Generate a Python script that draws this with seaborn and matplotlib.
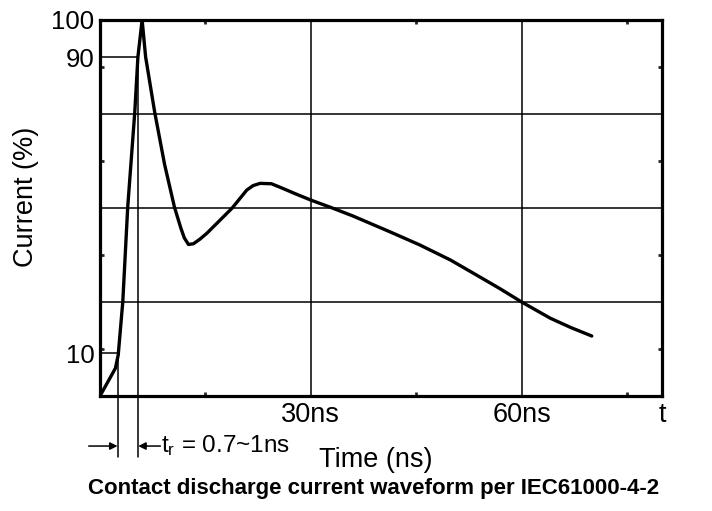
import numpy as np
import seaborn as sns
import matplotlib.pyplot as plt

# waveform (time in ns, current in %)
time_ns = [0, 2.2, 2.4, 2.6, 3.25, 3.95, 4.95, 5.4, 6.0, 6.5, 7.8, 9.2, 10.6, 11.5,
           12.0, 12.6, 13.3, 14.2, 15.2, 17.0, 18.8, 20.0, 20.9, 21.8, 22.8, 24.4,
           25.7, 27.8, 30.0, 33.0, 36.0, 41.3, 45.5, 49.9, 54.1, 57.0, 60.0, 64.1,
           67.0, 70.0]
current_pct = [-1.5, 6.0, 7.8, 9.6, 24.0, 49.5, 75.0, 90.0, 100.0, 90.0, 75.0, 61.0, 49.5, 43.9,
               41.2, 39.4, 39.6, 40.8, 42.4, 45.8, 49.2, 52.0, 54.1, 55.3, 55.9, 55.8,
               54.8, 53.1, 51.4, 49.3, 47.1, 42.8, 39.3, 35.2, 30.6, 27.4, 23.9, 19.5,
               17.0, 14.7]

y_ticks = [10, 90, 100]
x_ticks = [30, 60, 80]
x_ticklabels = ['30ns', '60ns', 't']
x_grid = [30, 60]
x_minor = [15, 45, 75]
rise_levels = [10, 90]
rise_times = [2.5, 5.45]

sns.set_theme(style='white')
plt.rcParams['font.family'] = ['Liberation Sans', 'DejaVu Sans']
plt.rcParams['mathtext.default'] = 'regular'
plt.rcParams['text.color'] = 'black'
plt.rcParams['axes.labelcolor'] = 'black'

xlim = (0, 80)
ylim = (-1.5, 100)

fig, ax = plt.subplots(figsize=(7.12, 5.11), dpi=100)
fig.subplots_adjust(left=0.1404, right=0.9298, bottom=0.225, top=0.9609)

ax.set_xlim(*xlim)
ax.set_ylim(*ylim)

# grid: vertical at 30/60 ns, horizontal at quarters of the box
for xg in x_grid:
    ax.axvline(xg, color='black', lw=1.1, zorder=1)
for yg in np.linspace(ylim[0], ylim[1], 5)[1:-1]:
    ax.axhline(yg, color='black', lw=1.1, zorder=1)

sns.lineplot(x=time_ns, y=current_pct, color='black', lw=2.4, ax=ax,
             sort=False, estimator=None, zorder=3)
ax.lines[-1].set_solid_joinstyle('round')

# 10% / 90% rise markers
ax.plot([0, rise_times[0]], [rise_levels[0]] * 2, color='black', lw=1.1)
ax.plot([0, rise_times[1]], [rise_levels[1]] * 2, color='black', lw=1.1)
ax.plot([rise_times[0]] * 2, [rise_levels[0], -18], color='black', lw=1.1, clip_on=False)
ax.plot([rise_times[1]] * 2, [rise_levels[1], -18], color='black', lw=1.1, clip_on=False)

arr = dict(arrowstyle='-|>', color='black', lw=1.1, mutation_scale=11, shrinkA=0, shrinkB=0)
ax.annotate('', xy=(rise_times[0], -15), xytext=(-1.6, -15), arrowprops=arr,
            annotation_clip=False)
ax.annotate('', xy=(rise_times[1], -15), xytext=(8.6, -15), arrowprops=arr,
            annotation_clip=False)
ax.text(8.7, -15, 't$_r$ = 0.7~1ns', fontsize=17.5, ha='left', va='center', color='black')

ax.set_yticks(y_ticks)
ax.set_yticklabels([str(v) for v in y_ticks], fontsize=18.5)
ax.set_xticks(x_ticks)
ax.set_xticklabels(x_ticklabels, fontsize=19.5)
ax.set_xticks(x_minor, minor=True)
ax.set_yticks(np.linspace(ylim[0], ylim[1], 9)[1::2], minor=True)
ax.tick_params(which='major', length=0, pad=4, colors='black')
ax.tick_params(which='minor', direction='in', length=3, width=2,
               top=True, right=True, bottom=True, left=True)

for sp in ax.spines.values():
    sp.set_visible(True)
    sp.set_color('black')
    sp.set_linewidth(2.3)

ax.set_xlabel('Time (ns)', fontsize=19.5, color='black')
ax.xaxis.set_label_coords(0.49, -0.135)
ax.set_ylabel('Current (%)', fontsize=19.5, color='black')
ax.yaxis.set_label_coords(-0.108, 0.53)

fig.text(0.524, 0.045, 'Contact discharge current waveform per IEC61000-4-2',
         ha='center', va='center', fontsize=16, fontweight='bold', color='black')

fig.savefig('out.png', dpi=100)
